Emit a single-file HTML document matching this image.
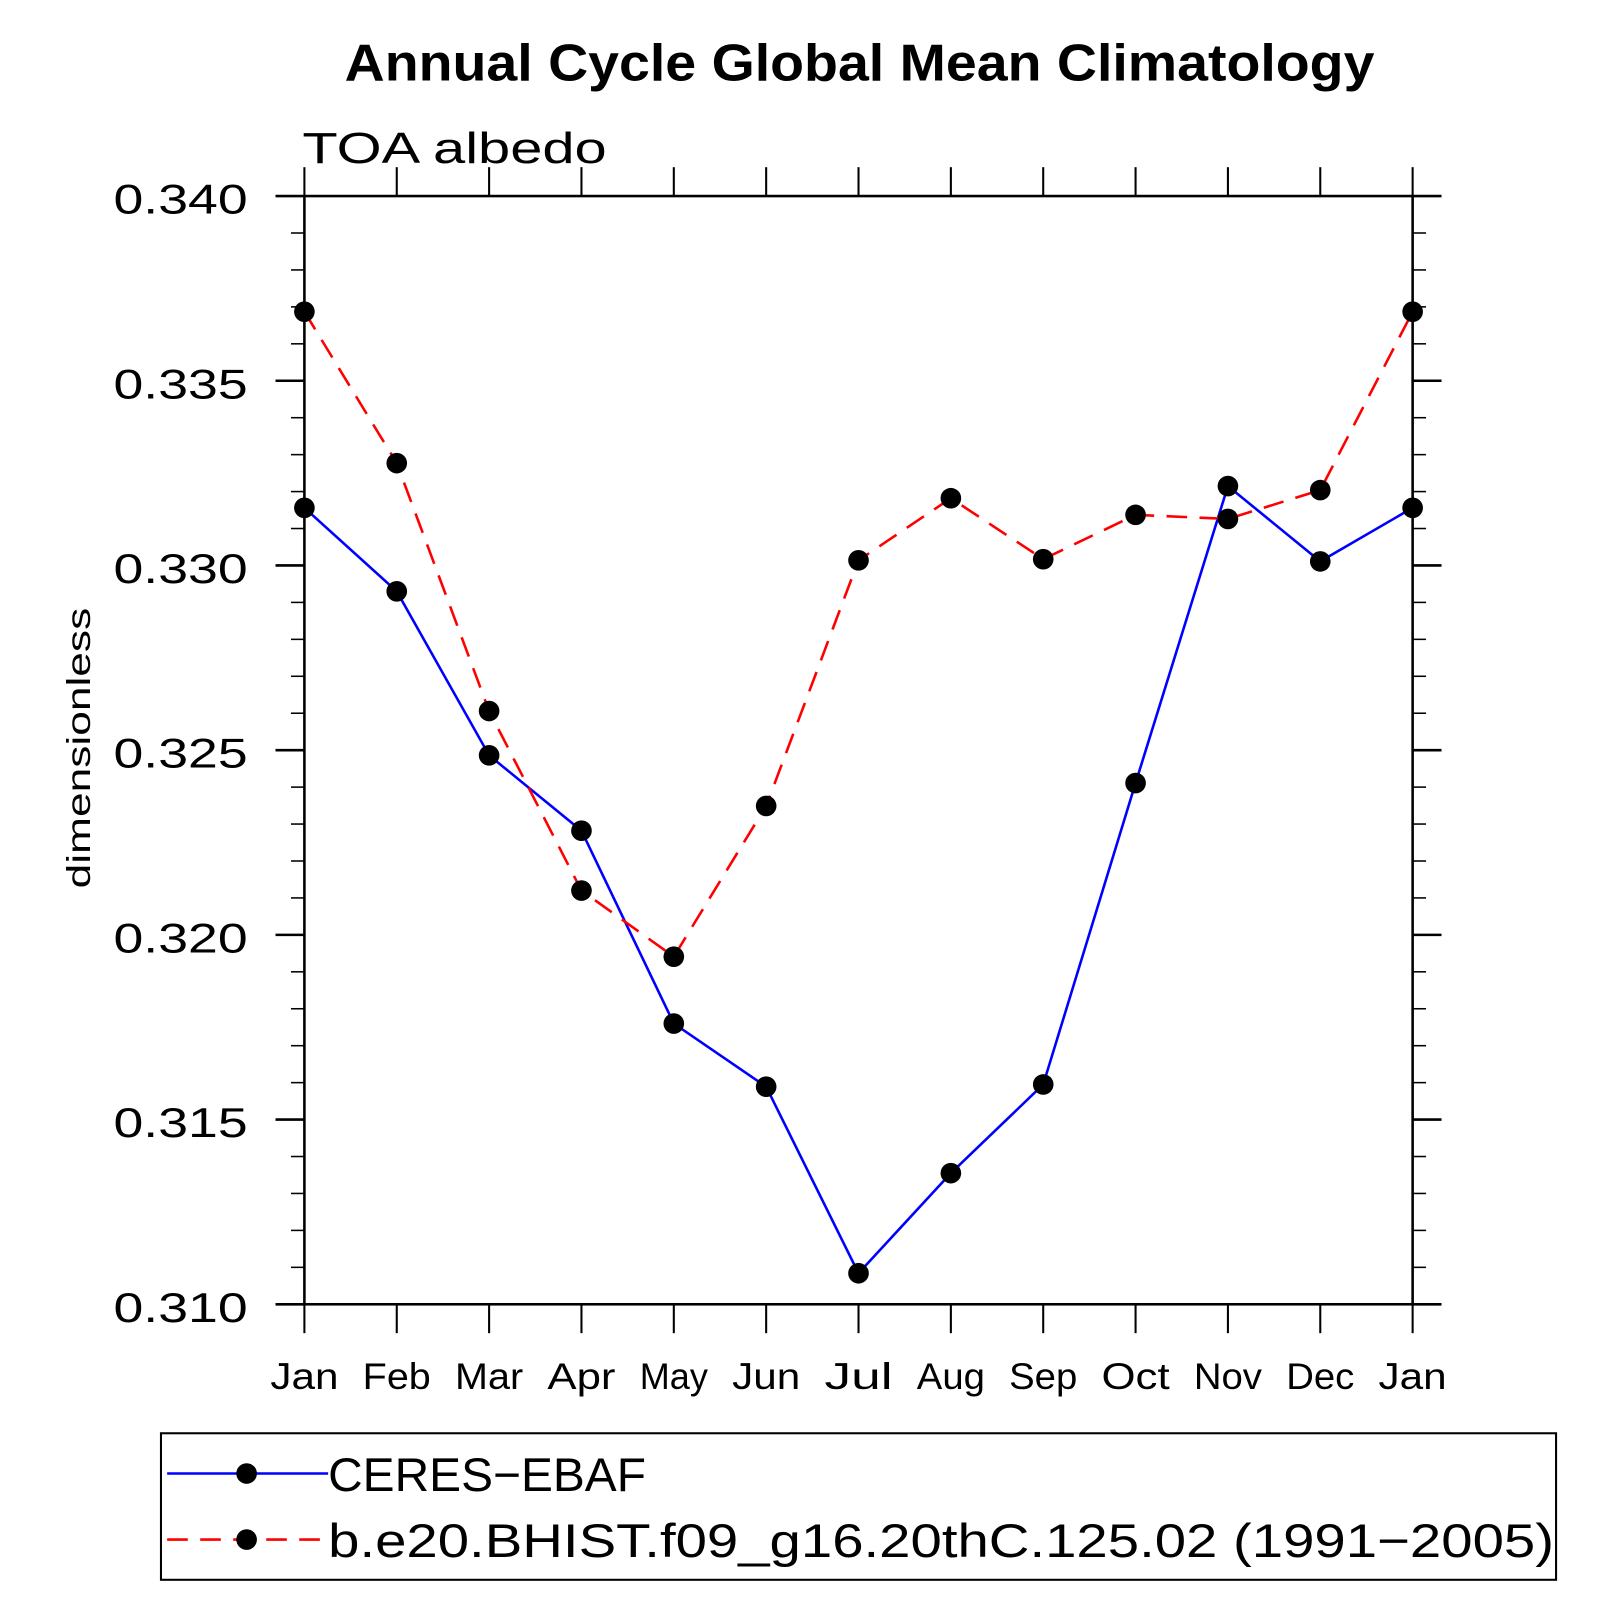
<!DOCTYPE html>
<html><head><meta charset="utf-8"><style>
html,body{margin:0;padding:0;background:#fff}
svg{display:block}
text{font-family:"Liberation Sans",sans-serif}
</style></head><body>
<svg id="chart" width="1619" height="1619" viewBox="0 0 1569 1569" xmlns="http://www.w3.org/2000/svg">
<text x="833" y="78" text-anchor="middle" font-size="50" font-weight="bold" textLength="998" lengthAdjust="spacingAndGlyphs">Annual Cycle Global Mean Climatology</text>
<text x="293" y="158" font-size="42" font-weight="300" textLength="295" lengthAdjust="spacingAndGlyphs">TOA albedo</text>
<text transform="translate(87,725) rotate(-90)" text-anchor="middle" font-size="32" textLength="272" lengthAdjust="spacingAndGlyphs">dimensionless</text>
<g id="axes"></g>
<g id="series"></g>
<rect x="156" y="1389" width="1352" height="142" fill="none" stroke="#000" stroke-width="2"/>
<g>
<line x1="162" y1="1428" x2="318" y2="1428" stroke="#0000ff" stroke-width="2.5"/>
<circle cx="239" cy="1428" r="10"/>
<text x="318" y="1445" font-size="46" textLength="308" lengthAdjust="spacingAndGlyphs">CERES−EBAF</text>
</g>
<g>
<line x1="162" y1="1492" x2="318" y2="1492" stroke="#ff0000" stroke-width="2.5" stroke-dasharray="20,12"/>
<circle cx="239" cy="1492" r="10"/>
<text x="318" y="1509" font-size="46" textLength="1188" lengthAdjust="spacingAndGlyphs">b.e20.BHIST.f09_g16.20thC.125.02 (1991−2005)</text>
</g>
</svg>
<script>
const months = ["Jan","Feb","Mar","Apr","May","Jun","Jul","Aug","Sep","Oct","Nov","Dec","Jan"];
const yTicks = [0.310,0.315,0.320,0.325,0.330,0.335,0.340];
const yTickLabels = ["0.310","0.315","0.320","0.325","0.330","0.335","0.340"];
const ceres = [0.33156,0.3293,0.32486,0.32282,0.3176,0.31589,0.31084,0.31355,0.31595,0.32411,0.33215,0.33011,0.33156];
const model = [0.33687,0.33277,0.32606,0.3212,0.31941,0.32349,0.33014,0.33182,0.33017,0.33137,0.33126,0.33204,0.33687];

const L=295,R=1369,T=190,B=1264,yMin=0.31,yMax=0.34;
const xs=i=>L+(R-L)*i/(months.length-1);
const ys=v=>B-(v-yMin)/(yMax-yMin)*(B-T);
const NS="http://www.w3.org/2000/svg";
function mk(tag,attrs,parent){const e=document.createElementNS(NS,tag);for(const k in attrs)e.setAttribute(k,attrs[k]);parent.appendChild(e);return e;}
const ax=document.getElementById('axes');
const frame=mk('rect',{x:L,y:T,width:R-L,height:B-T,fill:'none',stroke:'#000','stroke-width':2.5},ax);


months.forEach((m,i)=>{
  const x=xs(i);
  mk('line',{x1:x,y1:B,x2:x,y2:B+28,stroke:'#000','stroke-width':2},ax);
  mk('line',{x1:x,y1:T,x2:x,y2:T-28,stroke:'#000','stroke-width':2},ax);
  const t=mk('text',{x:x,y:B+82,'text-anchor':'middle','font-size':36,textLength:m.length*22,lengthAdjust:'spacingAndGlyphs'},ax);
  t.textContent=m;
  
  
});
for(let k=0;k<=30;k++){
  const y=ys(yMin+k*0.001);
  const major=k%5===0;
  const len=major?28:13;
  mk('line',{x1:L,y1:y,x2:L-len,y2:y,stroke:'#000','stroke-width':major?2.5:1.5},ax);
  mk('line',{x1:R,y1:y,x2:R+len,y2:y,stroke:'#000','stroke-width':major?2.5:1.5},ax);
}
yTicks.forEach((v,i)=>{
  const t=mk('text',{x:240,y:ys(v)+17,'text-anchor':'end','font-size':40,textLength:130,lengthAdjust:'spacingAndGlyphs'},ax);
  t.textContent=yTickLabels[i];
  
  
});
const sg=document.getElementById('series');
function drawSeries(vals,color,dash,name){
  const pts=vals.map((v,i)=>xs(i)+','+ys(v)).join(' ');
  const pl=mk('polyline',{points:pts,fill:'none',stroke:color,'stroke-width':2.5},sg);
  if(dash)pl.setAttribute('stroke-dasharray',dash);
  
  
  vals.forEach((v,i)=>{
    const c=mk('circle',{cx:xs(i),cy:ys(v),r:10,fill:'#000'},sg);
    
    
  });
}
drawSeries(ceres,'#0000ff',null,'ceres');
drawSeries(model,'#ff0000','20,12','model');
</script>
</body></html>
